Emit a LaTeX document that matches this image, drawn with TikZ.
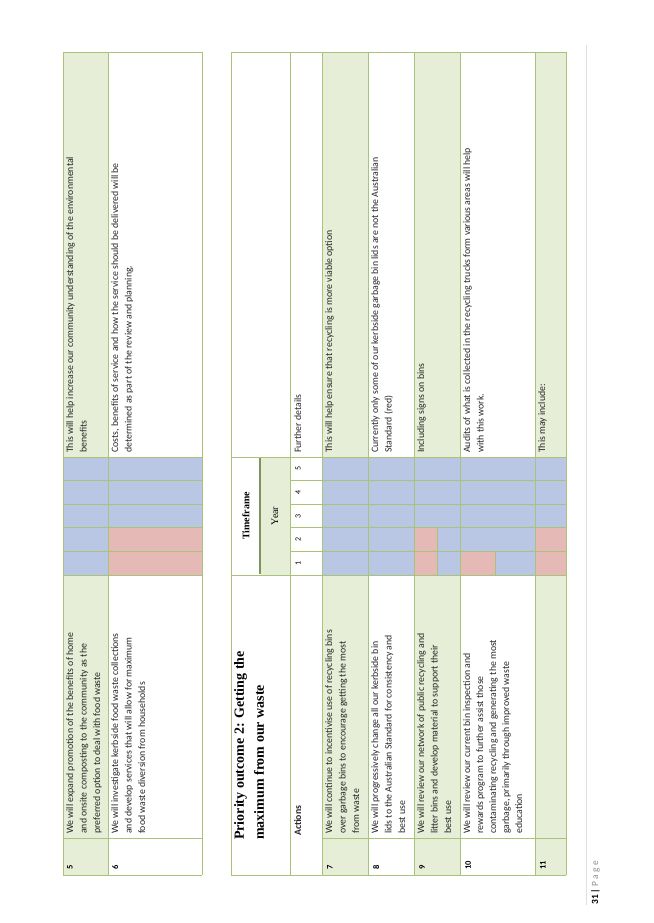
\documentclass[tikz,border=0pt]{standalone}
\usepackage{fontspec}
\setmainfont{Carlito}
\newfontfamily\headfont{Liberation Serif}
\definecolor{tabgreen}{HTML}{A9C47A}
\definecolor{rowgreen}{HTML}{E6EED7}
\definecolor{yrblue}{HTML}{B9C7E4}
\definecolor{yrpink}{HTML}{E5B9B5}
\tikzset{
  grid/.style={draw=tabgreen, line width=0.8pt},
  celltxt/.style={rotate=90, anchor=north west, align=left, inner sep=0pt,
    font=\fontsize{9.8}{13.5}\selectfont, text=black!85},
  numtxt/.style={rotate=90, anchor=north west, inner sep=0pt,
    font=\fontsize{8.5}{10}\selectfont\bfseries},
  yrtxt/.style={rotate=90, anchor=center, inner sep=0pt,
    font=\fontsize{8}{10}\selectfont},
  headtxt/.style={rotate=90, anchor=center, inner sep=0pt,
    font=\headfont\fontsize{10}{12}\selectfont\bfseries}
}
% year column k runs from \yb{k}-23.6 to \yb{k}
\newcommand{\yb}[1]{575-(#1-1)*23.6}
\begin{document}
\begin{tikzpicture}[x=1pt,y=-1pt]
\useasboundingbox (0,0) rectangle (653,923);

% Table 1
\fill[rowgreen] (63,52) rectangle (108,457);
\fill[rowgreen] (63,575) rectangle (108,875);
\foreach \k in {1,...,5} \fill[yrblue] (63,{\yb{\k}-23.6}) rectangle (108,{\yb{\k}});
\foreach \k/\c in {1/yrpink,2/yrpink,3/yrblue,4/yrblue,5/yrblue}
  \fill[\c] (108,{\yb{\k}-23.6}) rectangle (202,{\yb{\k}});
\foreach \x in {63,108,202} \draw[grid] (\x,52) -- (\x,875);
\foreach \y in {52,457,480.6,504.2,527.8,551.4,575,838,875} \draw[grid] (63,\y) -- (202,\y);

\node[numtxt] (n5) at (67,870) {5};
\node[numtxt] (n6) at (112,870) {6};
\node[celltxt] (a5) at (66,834) {We will expand promotion of the benefits of home\\and onsite composting to the community as the\\preferred option to deal with food waste};
\node[celltxt] (a6) at (111,834) {We will investigate kerbside food waste collections\\and develop services that will allow for maximum\\food waste diversion from households};
\node[celltxt] (d5) at (66,453) {This will help increase our community understanding of the environmental\\benefits};
\node[celltxt] (d6) at (111,453) {Costs, benefits of service and how the service should be delivered will be\\determined as part of the review and planning.};

% Table 2
\foreach \xa/\xb in {322/368,414/460,535/566} {
  \fill[rowgreen] (\xa,52) rectangle (\xb,457);
  \fill[rowgreen] (\xa,575) rectangle (\xb,875);
}
\fill[rowgreen] (261,457) rectangle (290,575);
\foreach \k in {1,...,5} \fill[yrblue] (322,{\yb{\k}-23.6}) rectangle (566,{\yb{\k}});
\foreach \k in {1,2} {
  \fill[yrpink] (414,{\yb{\k}-23.6}) rectangle (437,{\yb{\k}});
  \fill[yrpink] (535,{\yb{\k}-23.6}) rectangle (566,{\yb{\k}});
}
\fill[yrpink] (460,{\yb{1}-23.6}) rectangle (495,{\yb{1}});

\foreach \x in {231,290,322,368,414,460,535,566} \draw[grid] (\x,52) -- (\x,875);
\foreach \y in {52,457,575,875} \draw[grid] (231,\y) -- (566,\y);
\foreach \y in {480.6,504.2,527.8,551.4} \draw[grid] (290,\y) -- (566,\y);
\draw[grid] (322,838) -- (566,838);
\draw[grid] (437,527.8) -- (437,575);
\draw[grid] (495,551.4) -- (495,575);
\draw[draw=tabgreen!75!black, line width=1.6pt] (260,458) -- (260,574);

\node[rotate=90, anchor=north west, align=left, inner sep=0pt,
  font=\headfont\fontsize{14}{20}\selectfont\bfseries] (title) at (234,840)
  {Priority outcome 2: Getting the\\maximum from our waste};
\node[headtxt] (tf) at (246,516) {Timeframe};
\node[headtxt, font=\headfont\fontsize{10}{12}\selectfont] (yr) at (275,516) {Year};
\foreach \k in {1,...,5} \node[yrtxt] (y\k) at (298,{\yb{\k}-11.8}) {\k};
\node[celltxt, font=\fontsize{9.8}{13.5}\selectfont\bfseries] (act) at (294,836) {Actions};
\node[celltxt] (fd) at (294,453) {Further details};

\node[numtxt] (n7) at (327,870) {7};
\node[numtxt] (n8) at (373,870) {8};
\node[numtxt] (n9) at (419,870) {9};
\node[numtxt] (n10) at (465,870) {10};
\node[numtxt] (n11) at (540,870) {11};

\node[celltxt] (a7) at (325,834) {We will continue to incentivise use of recycling bins\\over garbage bins to encourage getting the most\\from waste};
\node[celltxt] (a8) at (371,834) {We will progressively change all our kerbside bin\\lids to the Australian Standard for consistency and\\best use};
\node[celltxt] (a9) at (417,834) {We will review our network of public recycling and\\litter bins and develop material to support their\\best use};
\node[celltxt, font=\fontsize{9.8}{13}\selectfont] (a10) at (463,834) {We will review our current bin inspection and\\rewards program to further assist those\\contaminating recycling and generating the most\\garbage, primarily through improved waste\\education};

\node[celltxt] (d7) at (325,453) {This will help ensure that recycling is more viable option};
\node[celltxt] (d8) at (371,453) {Currently only some of our kerbside garbage bin lids are not the Australian\\Standard (red)};
\node[celltxt] (d9) at (417,453) {Including signs on bins};
\node[celltxt] (d10) at (463,453) {Audits of what is collected in the recycling trucks form various areas will help\\with this work.};
\node[celltxt] (d11) at (538,453) {This may include:};

% footer
\draw[black!12, line width=0.6pt] (586,45) -- (586,905);
\node[rotate=90, anchor=north west, inner sep=0pt, font=\fontsize{9.5}{11}\selectfont] (pg) at (591,905)
  {\textbf{31 |} \textcolor{black!45}{P a g e}};
\end{tikzpicture}
\end{document}
